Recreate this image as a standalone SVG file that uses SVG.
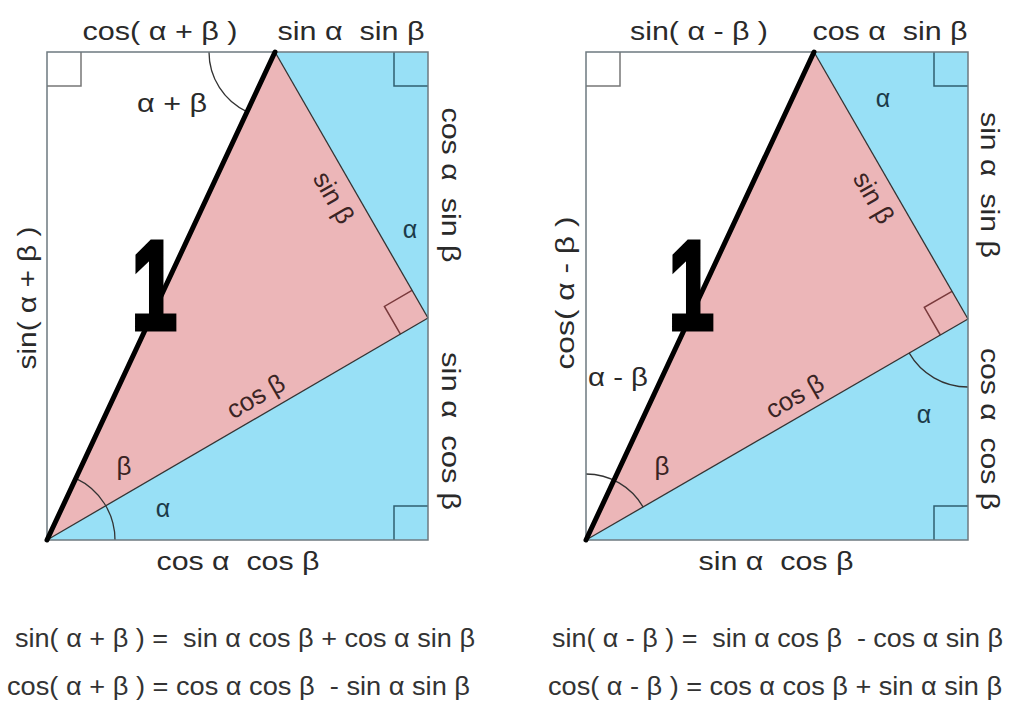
<svg xmlns="http://www.w3.org/2000/svg" width="1010" height="705" viewBox="0 0 1010 705">
<style>
.pink{fill:#ecb6b8;stroke:none}
.blue{fill:#98e0f6;stroke:none}
.edge{fill:none;stroke:#333;stroke-width:1.3}
.frame{fill:none;stroke:#6e7a80;stroke-width:1.5}
.sqw{fill:none;stroke:#777;stroke-width:1.5}
.sqb{fill:none;stroke:#2f5f70;stroke-width:1.5}
.sqp{fill:none;stroke:#7a3a3c;stroke-width:1.5}
.arc{fill:none;stroke:#333;stroke-width:1.3}
.thick{fill:none;stroke:#000;stroke-width:5;stroke-linecap:round}
.t{font-family:"Liberation Sans",Arial,sans-serif;font-size:25px;fill:#2a2a2a}
.tp{font-family:"Liberation Sans",Arial,sans-serif;font-size:26px;fill:#3a2424}
.tb{font-family:"Liberation Sans",Arial,sans-serif;font-size:25px;fill:#1c3b4a}
.one{font-family:"Liberation Sans",Arial,sans-serif;font-weight:bold;font-size:126px;fill:#000;stroke:#000;stroke-width:5;stroke-linejoin:miter}
.f{font-family:"Liberation Sans",Arial,sans-serif;font-size:25px;fill:#333}
</style>

<g id="left-diagram">
  <g id="left-shapes">
    <polygon class="blue" points="275,52 428,52 428,318"/>
    <polygon class="blue" points="47,540 428,318 428,540"/>
    <polygon class="pink" points="275,52 428,318 47,540"/>
    <path class="sqw" d="M47,86 H81 V52"/>
    <path class="sqb" d="M394,52 V86 H428"/>
    <path class="sqb" d="M428,506 H394 V540"/>
    <path class="sqp" d="M412,290.3 L384.4,306.4 L400.4,334.1"/>
    <path class="arc" d="M209,52 A66,66 0 0 0 247.1,111.8"/>
    <path class="arc" d="M115,540 A68,68 0 0 0 75.8,478.4"/>
  </g>
  <g id="left-connectors">
    <line class="edge" x1="275" y1="52" x2="428" y2="318"/>
    <line class="edge" x1="428" y1="318" x2="47" y2="540"/>
    <rect class="frame" x="47" y="52" width="381" height="488"/>
    <line class="thick" x1="275" y1="52" x2="47" y2="540"/>
  </g>
  <g id="left-labels">
    <text class="one" transform="translate(131.5,329) scale(0.65,1)">1</text>
    <text class="t" x="160" y="40" text-anchor="middle" textLength="155" lengthAdjust="spacingAndGlyphs" xml:space="preserve">cos( α + β )</text>
    <text class="t" x="351" y="40" text-anchor="middle" textLength="147" lengthAdjust="spacingAndGlyphs" xml:space="preserve">sin α  sin β</text>
    <text class="t" x="172" y="112" text-anchor="middle" textLength="70" lengthAdjust="spacingAndGlyphs" xml:space="preserve">α + β</text>
    <text class="t" transform="translate(442,185) rotate(90)" text-anchor="middle" textLength="155" lengthAdjust="spacingAndGlyphs" xml:space="preserve">cos α  sin β</text>
    <text class="t" transform="translate(442,431) rotate(90)" text-anchor="middle" textLength="158" lengthAdjust="spacingAndGlyphs" xml:space="preserve">sin α  cos β</text>
    <text class="t" transform="translate(36,298) rotate(-90)" text-anchor="middle" textLength="143" lengthAdjust="spacingAndGlyphs" xml:space="preserve">sin( α + β )</text>
    <text class="t" x="238" y="570" text-anchor="middle" textLength="163" lengthAdjust="spacingAndGlyphs" xml:space="preserve">cos α  cos β</text>
    <text class="tp" transform="translate(333,198) rotate(60)" y="8" text-anchor="middle">sin β</text>
    <text class="tp" transform="translate(256,397) rotate(-30.2)" y="8" text-anchor="middle">cos β</text>
    <text class="tb" x="410" y="238" text-anchor="middle">α</text>
    <text class="tp" x="124" y="475" text-anchor="middle">β</text>
    <text class="tb" x="163" y="517" text-anchor="middle">α</text>
  </g>
</g>

<g id="right-diagram">
  <g id="right-shapes">
    <polygon class="blue" points="814,52 968,52 968,319"/>
    <polygon class="blue" points="586,540 968,319 968,540"/>
    <polygon class="pink" points="814,52 968,319 586,540"/>
    <path class="sqw" d="M586,86 H620 V52"/>
    <path class="sqb" d="M934,52 V86 H968"/>
    <path class="sqb" d="M968,506 H934 V540"/>
    <path class="sqp" d="M952,291.3 L924.3,307.3 L940.3,335"/>
    <path class="arc" d="M586,474 A66,66 0 0 1 643.2,507.1"/>
    <path class="arc" d="M909.1,352.9 A68,68 0 0 0 968,387"/>
  </g>
  <g id="right-connectors">
    <line class="edge" x1="814" y1="52" x2="968" y2="319"/>
    <line class="edge" x1="968" y1="319" x2="586" y2="540"/>
    <rect class="frame" x="586" y="52" width="382" height="488"/>
    <line class="thick" x1="814" y1="52" x2="586" y2="540"/>
  </g>
  <g id="right-labels">
    <text class="one" transform="translate(668.5,329) scale(0.65,1)">1</text>
    <text class="t" x="699" y="40" text-anchor="middle" textLength="138" lengthAdjust="spacingAndGlyphs" xml:space="preserve">sin( α - β )</text>
    <text class="t" x="890" y="40" text-anchor="middle" textLength="155" lengthAdjust="spacingAndGlyphs" xml:space="preserve">cos α  sin β</text>
    <text class="tb" x="883" y="107" text-anchor="middle">α</text>
    <text class="t" transform="translate(981,185) rotate(90)" text-anchor="middle" textLength="146" lengthAdjust="spacingAndGlyphs" xml:space="preserve">sin α  sin β</text>
    <text class="t" transform="translate(981,429) rotate(90)" text-anchor="middle" textLength="162" lengthAdjust="spacingAndGlyphs" xml:space="preserve">cos α  cos β</text>
    <text class="t" transform="translate(574,293) rotate(-90)" text-anchor="middle" textLength="153" lengthAdjust="spacingAndGlyphs" xml:space="preserve">cos( α - β )</text>
    <text class="t" x="618" y="386" text-anchor="middle" textLength="60" lengthAdjust="spacingAndGlyphs" xml:space="preserve">α - β</text>
    <text class="t" x="776" y="570" text-anchor="middle" textLength="155" lengthAdjust="spacingAndGlyphs" xml:space="preserve">sin α  cos β</text>
    <text class="tp" transform="translate(873,198) rotate(60)" y="8" text-anchor="middle">sin β</text>
    <text class="tp" transform="translate(795,397) rotate(-30)" y="8" text-anchor="middle">cos β</text>
    <text class="tp" x="662" y="475" text-anchor="middle">β</text>
    <text class="tb" x="924" y="423" text-anchor="middle">α</text>
  </g>
</g>

<g id="formulas">
  <text class="f" x="15" y="647" textLength="460" lengthAdjust="spacingAndGlyphs" xml:space="preserve">sin( α + β ) =  sin α cos β + cos α sin β</text>
  <text class="f" x="7" y="695" textLength="463" lengthAdjust="spacingAndGlyphs" xml:space="preserve">cos( α + β ) = cos α cos β  - sin α sin β</text>
  <text class="f" x="552" y="647" textLength="451" lengthAdjust="spacingAndGlyphs" xml:space="preserve">sin( α - β ) =  sin α cos β  - cos α sin β</text>
  <text class="f" x="548" y="695" textLength="454" lengthAdjust="spacingAndGlyphs" xml:space="preserve">cos( α - β ) = cos α cos β + sin α sin β</text>
</g>
</svg>
